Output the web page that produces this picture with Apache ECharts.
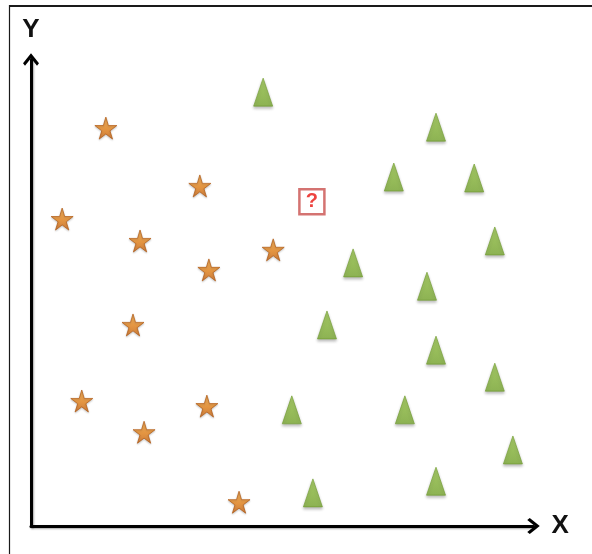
<!DOCTYPE html>
<html>
<head>
<meta charset="utf-8">
<script src="https://cdn.jsdelivr.net/npm/echarts@6/dist/echarts.min.js"></script>
<style>
  html, body { margin: 0; padding: 0; background: #fff; }
  #chart { width: 592px; height: 554px; }
</style>
</head>
<body>
<div id="chart"></div>
<script>
// Class A: stars, [x, y]
const starPoints = [
  [1.49, 8.53], [3.36, 7.29], [0.62, 6.58], [2.17, 6.11], [4.82, 5.92],
  [3.54, 5.49], [2.03, 4.31], [1.01, 2.68], [3.50, 2.57], [2.25, 2.01],
  [4.14, 0.51]
];
// Class B: triangles, [x, y]
const trianglePoints = [
  [4.62, 9.30], [8.06, 8.55], [7.22, 7.48], [8.82, 7.46], [9.23, 6.11],
  [6.41, 5.64], [7.88, 5.14], [5.89, 4.31], [8.06, 3.77], [9.23, 3.19],
  [5.19, 2.49], [7.44, 2.49], [9.59, 1.63], [8.06, 0.96], [5.61, 0.71]
];
// Unlabelled query point
const queryPoints = [[5.59, 6.95]];
const axisNames = { x: 'X', y: 'Y' };

const starPath = 'path://M50,0 L61,35 L98,35 L68,57 L79,91 L50,70 L21,91 L32,57 L2,35 L39,35 Z';
const chevron = 'path://M8,0 L16,10 L14,12.5 L8,5 L2,12.5 L0,10 Z';

const axisLineStyle = {
  color: '#000',
  width: 3,
  shadowColor: 'rgba(0,0,0,0.35)',
  shadowBlur: 2,
  shadowOffsetX: 1,
  shadowOffsetY: 1
};
const nameStyle = {
  fontFamily: 'Liberation Sans',
  fontWeight: 'bold',
  fontSize: 26,
  color: '#111'
};

const chart = echarts.init(document.getElementById('chart'), null, { renderer: 'canvas' });
chart.setOption({
  animation: false,
  backgroundColor: '#fff',
  grid: { left: 31, right: 58.5, top: 59.5, bottom: 28, containLabel: false },
  xAxis: {
    type: 'value', min: 0, max: 10,
    name: axisNames.x, nameLocation: 'end', nameGap: 18,
    nameTextStyle: nameStyle,
    axisLine: { show: true, onZero: false, symbol: ['none', chevron], symbolSize: [16, 13], lineStyle: axisLineStyle },
    axisTick: { show: false }, axisLabel: { show: false }, splitLine: { show: false }
  },
  yAxis: {
    type: 'value', min: 0, max: 10,
    name: axisNames.y, nameLocation: 'end', nameGap: 17,
    nameTextStyle: nameStyle,
    axisLine: { show: true, onZero: false, symbol: ['none', chevron], symbolSize: [16, 13], lineStyle: axisLineStyle },
    axisTick: { show: false }, axisLabel: { show: false }, splitLine: { show: false }
  },
  graphic: [
    { type: 'line', shape: { x1: 9, y1: 6, x2: 592, y2: 6 }, style: { stroke: '#1a1a1a', lineWidth: 2 }, silent: true },
    { type: 'line', shape: { x1: 9.5, y1: 5, x2: 9.5, y2: 554 }, style: { stroke: '#1a1a1a', lineWidth: 1.2 }, silent: true }
  ],
  series: [
    {
      type: 'scatter',
      data: starPoints,
      symbol: starPath,
      symbolSize: [22, 22],
      itemStyle: {
        color: {
          type: 'linear', x: 0, y: 0, x2: 0, y2: 1,
          colorStops: [
            { offset: 0, color: '#f5a640' },
            { offset: 0.55, color: '#e9871f' },
            { offset: 1, color: '#cc6818' }
          ]
        },
        borderColor: '#b25a14',
        borderWidth: 0.9,
        shadowColor: 'rgba(0,0,0,0.25)',
        shadowBlur: 2,
        shadowOffsetY: 1
      },
      z: 3
    },
    {
      type: 'scatter',
      data: trianglePoints,
      symbol: 'triangle',
      symbolSize: [19, 28],
      itemStyle: {
        color: {
          type: 'linear', x: 0, y: 0, x2: 0, y2: 1,
          colorStops: [
            { offset: 0, color: '#9dcb4c' },
            { offset: 1, color: '#7fae37' }
          ]
        },
        borderColor: '#6f9a2e',
        borderWidth: 0.8,
        shadowColor: 'rgba(0,0,0,0.3)',
        shadowBlur: 3,
        shadowOffsetY: 2
      },
      z: 3
    },
    {
      type: 'scatter',
      data: queryPoints,
      symbol: 'rect',
      symbolSize: [25, 25],
      itemStyle: { color: '#fff', borderColor: '#c9504d', borderWidth: 2.5 },
      label: {
        show: true, position: 'inside', formatter: '?',
        fontFamily: 'Liberation Sans', fontWeight: 'bold', fontSize: 20, color: '#e8140f'
      },
      z: 4
    }
  ]
});
</script>
</body>
</html>
